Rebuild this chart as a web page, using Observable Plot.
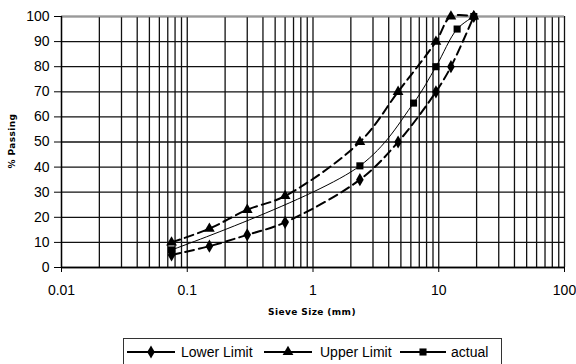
<!DOCTYPE html>
<html>
<head>
<meta charset="utf-8">
<script src="https://cdn.jsdelivr.net/npm/d3@7"></script>
<script src="https://cdn.jsdelivr.net/npm/@observablehq/plot@0.6"></script>
<style>
  html, body { margin: 0; padding: 0; background: #fff; }
  #chart { position: relative; width: 576px; height: 364px; overflow: hidden; }
</style>
</head>
<body>
<div id="chart"></div>
<script>
// Sieve sizes (mm) and % passing
const lowerSizes = [0.075, 0.15, 0.3, 0.6, 2.36, 4.75, 9.5, 12.5, 19];
const lowerPassing = [5, 8.5, 13, 18, 35, 50, 70, 80, 100];
const upperSizes = [0.075, 0.15, 0.3, 0.6, 2.36, 4.75, 9.5, 12.5, 19];
const upperPassing = [10, 15.5, 23, 28.5, 50, 70, 90, 100, 100];
const actualSizes = [0.075, 2.36, 6.3, 9.5, 14, 19];
const actualPassing = [7, 40.5, 65.5, 80, 95, 100];

const seriesNames = ["Lower Limit", "Upper Limit", "actual"];
const seriesSymbols = ["diamond", "triangle", "square"];

const xTicks = [0.01, 0.1, 1, 10, 100];
const xTickLabels = ["0.01", "0.1", "1", "10", "100"];
const yTicks = [0, 10, 20, 30, 40, 50, 60, 70, 80, 90, 100];
const decades = [0.01, 0.1, 1, 10];
const multipliers = [1, 2, 3, 4, 5, 6, 7, 8, 9];

const xTitle = "Sieve Size (mm)";
const yTitle = "% Passing";

const toRows = (xs, ys) => xs.map((x, i) => ({x, y: ys[i]}));
const lower = toRows(lowerSizes, lowerPassing);
const upper = toRows(upperSizes, upperPassing);
const actual = toRows(actualSizes, actualPassing);

const xGrid = decades.flatMap(d => multipliers.map(m => +(m * d).toPrecision(3))).concat([100]);

const FONT = "'Liberation Sans', Arial, sans-serif";
const DASH = "9,5";
const R = 4;

const plot = Plot.plot({
  width: 576,
  height: 364,
  marginLeft: 61,
  marginRight: 12,
  marginTop: 16,
  marginBottom: 97,
  style: {fontFamily: FONT, fontSize: "14px", color: "#000", background: "#fff"},
  x: {type: "log", domain: [0.01, 100]},
  y: {domain: [0, 100]},
  marks: [
    Plot.ruleX(xGrid, {stroke: "#111", strokeWidth: 1.3}),
    Plot.ruleY(yTicks, {stroke: "#111", strokeWidth: 1.3}),
    Plot.ruleY([100], {stroke: "#999", strokeWidth: 1.3}),
    Plot.axisX({ticks: xTicks, tickFormat: d => xTickLabels[xTicks.findIndex(t => Math.abs(t - d) < 1e-9)], tickSize: 5, tickPadding: 13, fontSize: 14, label: null}),
    Plot.axisY({ticks: yTicks, tickSize: 7, tickPadding: 5, fontSize: 14, label: null}),
    Plot.line(lower, {x: "x", y: "y", stroke: "#000", strokeWidth: 2, strokeDasharray: DASH, curve: "catmull-rom"}),
    Plot.line(upper, {x: "x", y: "y", stroke: "#000", strokeWidth: 2, strokeDasharray: DASH, curve: "catmull-rom"}),
    Plot.line(actual, {x: "x", y: "y", stroke: "#000", strokeWidth: 1, curve: "catmull-rom"}),
    Plot.dot(lower, {x: "x", y: "y", symbol: seriesSymbols[0], r: R, fill: "#000", stroke: "none"}),
    Plot.dot(upper, {x: "x", y: "y", symbol: seriesSymbols[1], r: R, fill: "#000", stroke: "none"}),
    Plot.dot(actual, {x: "x", y: "y", symbol: seriesSymbols[2], r: R, fill: "#000", stroke: "none"}),
    Plot.ruleY([0], {stroke: "#000", strokeWidth: 1.3}),
    Plot.ruleX([0.01], {stroke: "#000", strokeWidth: 1.3})
  ]
});

document.getElementById("chart").appendChild(plot);

// Axis titles and legend drawn into the same SVG
const svg = d3.select(plot);
svg.append("text")
  .attr("x", 312).attr("y", 315)
  .attr("text-anchor", "middle")
  .attr("font-family", "'DejaVu Sans', Verdana, sans-serif")
  .attr("font-weight", "bold").attr("font-size", 9)
  .attr("letter-spacing", 0.4)
  .text(xTitle);
svg.append("text")
  .attr("transform", "translate(15,141) rotate(-90)")
  .attr("text-anchor", "middle")
  .attr("font-family", "'DejaVu Sans', Verdana, sans-serif")
  .attr("font-weight", "bold").attr("font-size", 9)
  .attr("letter-spacing", 0.4)
  .text(yTitle);

const legend = svg.append("g");
legend.append("rect")
  .attr("x", 123.5).attr("y", 338.5).attr("width", 378).attr("height", 40)
  .attr("fill", "#fff").attr("stroke", "#333").attr("stroke-width", 1);
const legendItems = [
  {x0: 127, x1: 175, text: 181},
  {x0: 264, x1: 312, text: 320},
  {x0: 400, x1: 446, text: 451}
];
const symMap = {diamond: d3.symbolDiamond, triangle: d3.symbolTriangle, square: d3.symbolSquare};
legendItems.forEach((it, i) => {
  const ly = 352;
  legend.append("line")
    .attr("x1", it.x0).attr("x2", it.x1).attr("y1", ly).attr("y2", ly)
    .attr("stroke", "#000").attr("stroke-width", 2);
  legend.append("path")
    .attr("d", d3.symbol(symMap[seriesSymbols[i]], Math.PI * R * R)())
    .attr("transform", `translate(${(it.x0 + it.x1) / 2},${ly})`)
    .attr("fill", "#000");
  legend.append("text")
    .attr("x", it.text).attr("y", ly + 5)
    .attr("text-anchor", "start")
    .attr("font-family", FONT).attr("font-size", 14)
    .attr("fill", "#000")
    .text(seriesNames[i]);
});
</script>
</body>
</html>
